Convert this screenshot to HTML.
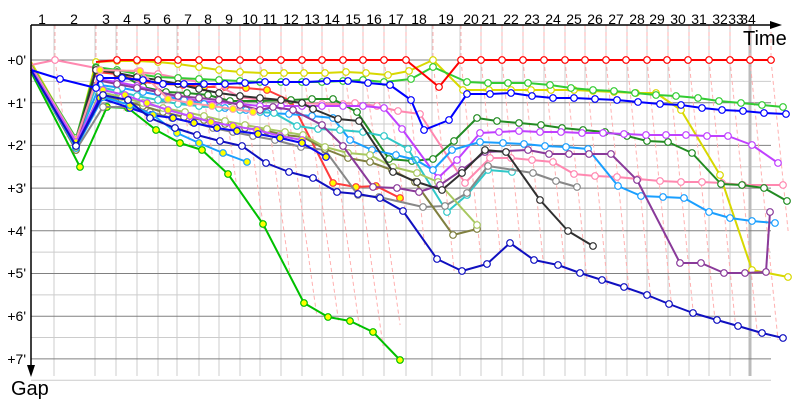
<!DOCTYPE html>
<html><head><meta charset="utf-8"><style>
html,body{margin:0;padding:0;background:#fff;}
svg{display:block;font-family:"Liberation Sans","DejaVu Sans",sans-serif;}
</style></head><body>
<svg id="s" width="800" height="400" viewBox="0 0 800 400" xmlns="http://www.w3.org/2000/svg">
<g id="grid"></g>
<g id="dash"></g>
<g id="ser"></g>
<line x1="31" y1="25" x2="772" y2="25" stroke="#000" stroke-width="1.5"/>
<polygon points="770,21 782,25 770,29" fill="#000"/>
<line x1="31" y1="25" x2="31" y2="368" stroke="#000" stroke-width="1.5"/>
<polygon points="27,365 31,377 35,365" fill="#000"/>
<g font-size="14" text-anchor="middle" fill="#000">
<text x="42" y="24">1</text><text x="74" y="24">2</text><text x="106" y="24">3</text><text x="127" y="24">4</text><text x="147" y="24">5</text><text x="167" y="24">6</text><text x="188" y="24">7</text><text x="208" y="24">8</text><text x="229" y="24">9</text><text x="250" y="24">10</text><text x="270" y="24">11</text><text x="291" y="24">12</text><text x="312" y="24">13</text><text x="332" y="24">14</text><text x="353" y="24">15</text><text x="374" y="24">16</text><text x="396" y="24">17</text><text x="419" y="24">18</text><text x="446" y="24">19</text><text x="471" y="24">20</text><text x="489" y="24">21</text><text x="511" y="24">22</text><text x="532" y="24">23</text><text x="553" y="24">24</text><text x="574" y="24">25</text><text x="595" y="24">26</text><text x="616" y="24">27</text><text x="637" y="24">28</text><text x="657" y="24">29</text><text x="678" y="24">30</text><text x="699" y="24">31</text><text x="720" y="24">32</text><text x="736" y="24">33</text><text x="748" y="24">34</text>
</g>
<g font-size="14" text-anchor="end" fill="#000">
<text x="26" y="65">+0'</text><text x="26" y="108">+1'</text><text x="26" y="150">+2'</text><text x="26" y="193">+3'</text><text x="26" y="236">+4'</text><text x="26" y="278">+5'</text><text x="26" y="321">+6'</text><text x="26" y="364">+7'</text>
</g>
<text x="743" y="45" font-size="20">Time</text>
<text x="11" y="395" font-size="20">Gap</text>
</svg>
<script>
var NS="http://www.w3.org/2000/svg";
function el(p,t,a){var e=document.createElementNS(NS,t);for(var k in a)e.setAttribute(k,a[k]);p.appendChild(e);return e;}
var G=document.getElementById("grid"),D=document.getElementById("dash"),S=document.getElementById("ser");
var vx=[54,95,116,137,158,177,199,219,240,260,281,302,322,343,363,384,406,432,460,481,502,523,544,565,585,606,627,647,668,689,709,730];
for(var i=0;i<8;i++){var y=60+i*42.7;
 el(G,"line",{x1:31,y1:y+21.35,x2:771,y2:y+21.35,stroke:"#ccc","stroke-width":1});
}
vx.forEach(function(x){el(G,"line",{x1:x,y1:25,x2:x,y2:376,stroke:"#ccc","stroke-width":1});});
el(G,"line",{x1:750,y1:25,x2:750,y2:376,stroke:"#bbb","stroke-width":3});
for(var i=0;i<8;i++){var y=60+i*42.7;el(G,"line",{x1:31,y1:y,x2:771,y2:y,stroke:"#808080","stroke-width":1});}
function P(s){return s.trim().split(/\s+/).map(function(q){return q.split(",").map(Number);});}
var series=[
["#00c000","#ff0","31,72 80,167 107,107 128,108 156,130 180,143 202,150 228,174 263,224 304,303 328,317 350,321 373,332 400,360"],
["#ff3c3c","#ff0","31,70 76,138 96,72 117,74 143,82 163,84 183,85 204,87 225,87 246,88 267,90 291,101 333,183 356,187 376,186 400,198"],
["#d8d800","#fff","31,62 76,140 96,62 117,61 137,61 158,62 178,64 199,67 219,70 240,72 264,73 284,73 304,73 325,73 346,72 366,73 388,75 409,71 433,60 463,90 489,90 511,90 531,90 551,90 574,90 593,91 614,92 636,93 656,93 681,110 720,175 752,270 788,277"],
["#ff88b0","#fff","31,65 55,60 96,68 117,70 137,72 158,74 178,78 199,82 219,86 240,97 260,100 281,101 302,103 322,104 343,104 355,103 377,106 398,111 420,114 465,183 490,158 511,158 532,160 553,162 574,174 595,176 617,177 638,179 660,181 681,182 702,182 722,183 743,185 783,185"],
["#33cc33","#fff","31,65 76,138 96,67 117,70 137,74 158,77 178,78 199,79 219,80 240,81 260,82 281,82 302,82 322,82 343,81 363,80 384,82 411,79 433,67 467,82 488,83 508,83 528,83 550,85 571,88 593,90 614,91 635,93 656,95 676,96 698,98 719,101 741,103 762,105 783,107"],
["#228b22","#fff","31,66 76,140 96,68 117,72 143,87 166,92 187,93 208,95 230,101 260,101 291,100 312,99 333,99 357,112 389,159 412,161 433,159 454,141 477,118 497,121 519,123 541,125 562,128 583,130 605,132 627,136 647,141 668,142 692,153 721,184 742,185 764,188 787,201"],
["#c040ff","#fff","31,66 76,140 96,79 117,82 137,86 158,92 178,97 199,101 219,102 240,104 260,106 281,106 302,106 322,106 343,106 363,106 384,108 402,129 438,178 457,160 480,133 499,132 519,131 540,132 561,132 582,133 603,133 624,134 646,135 666,135 686,135 707,136 728,136 752,145 778,163"],
["#1a9fff","#fff","31,68 76,142 100,85 122,88 143,92 163,96 184,100 204,104 225,108 246,110 267,113 289,114 312,116 333,118 350,140 372,150 396,155 416,160 433,170 452,150 480,142 503,143 524,144 545,146 566,147 588,149 618,186 641,196 663,197 684,198 709,212 730,218 752,221 775,223"],
["#30c8c8","#fff","31,68 76,145 96,86 117,91 137,96 158,100 178,104 199,106 219,108 240,110 260,112 274,113 297,126 318,129 340,130 363,132 384,136 408,149 447,212 467,195 488,170 512,172"],
["#888","#fff","31,68 76,150 103,107 129,107 150,112 172,118 192,122 213,128 233,132 253,136 275,140 301,147 325,150 358,195 379,197 423,207 445,206 467,193 488,166 533,173 556,181 577,187"],
["#808040","#fff","31,70 76,150 100,95 122,100 143,106 163,112 184,117 204,120 225,124 245,128 267,131 285,135 303,137 325,149 348,158 370,162 392,170 415,182 453,235 477,229"],
["#a8c860","#fff","31,70 76,148 100,92 122,97 143,103 163,108 185,112 204,116 225,121 245,125 267,129 285,132 303,135 325,147 348,153 370,155 393,167 417,173 438,182 477,225"],
["#8a3a9a","#fff","31,68 76,145 96,80 117,84 137,88 158,92 178,96 199,98 219,100 240,105 260,110 273,107 293,110 322,125 343,146 373,187 397,188 419,192 440,185 462,170 485,152 528,150 549,154 569,154 589,154 611,154 637,180 680,263 701,263 724,273 745,273 766,272 770,212"],
["#303030","#fff","31,67 76,143 96,70 117,73 137,77 158,80 178,84 199,89 219,93 240,96 260,98 281,100 302,103 313,109 338,119 359,121 393,172 417,182 442,190 462,173 485,150 506,152 540,200 568,231 593,246"],
["#ff99aa","#ff0","31,66 76,140 100,70 140,71 168,99 190,103 212,106 233,109 253,112"],
["#c050ff","#ff0","31,68 76,142 103,90 125,95 147,103 168,110 190,116 211,122 233,126 257,130 280,136 302,140"],
["#0a0af0","#ff0","31,70 76,146 100,98 130,108 151,115 173,118 194,123 217,128 237,131 258,134 280,138 302,143 326,157"],
["#1a9fff","#ff0","31,70 76,148 103,97 130,105 153,115 177,133 199,143 223,153 247,162"],
["#1010c0","#fff","31,70 76,146 103,95 128,100 150,118 175,128 197,135 220,141 242,146 266,163 289,172 313,178 337,192 358,194 380,198 403,211 437,259 462,271 487,264 510,243 534,260 558,265 580,273 602,280 624,287 647,295 669,304 693,313 717,320 738,326 762,333 783,338"],
["#0000ff","#fff","31,70 60,79 96,88 100,78 122,78 143,80 163,84 184,84 204,84 225,84 245,83 265,82 286,82 306,82 327,81 348,81 368,83 390,85 411,100 424,130 449,120 467,94 490,94 511,93 532,96 553,98 574,98 595,99 617,100 638,102 660,104 681,105 702,108 722,110 743,111 764,113 786,114"],
["#ff0000","#fff","96,62 117,60 137,60 158,60 178,60 199,60 219,60 240,60 260,60 281,60 302,60 322,60 343,60 363,60 384,60 406,60 439,87 461,60 481,60 502,60 523,60 544,60 565,60 585,60 606,60 626,60 647,60 667,60 688,60 709,60 730,60 750,60 771,60"]
];
var parsed=series.map(function(s){return P(s[2]);});
function lowest(x){var m=60;parsed.forEach(function(p){for(var i=1;i<p.length;i++){var a=p[i-1],b=p[i];if(x>=a[0]&&x<=b[0]&&b[0]>a[0]){var y=a[1]+(b[1]-a[1])*(x-a[0])/(b[0]-a[0]);if(y>m)m=y;}}});return m;}
var dx=[55,96,117,137,158,178,199,219,240,260,281,302,322,343,363,384,406,433,461,481,502,523,544,565,585,606,627,647,668,689,709,730,750,771];
dx.forEach(function(x0){
 var sl=x0<400?0.14:0.1, ye=60, xe=x0;
 for(var y=60;y<=375;y++){var x=x0+sl*(y-60);xe=x;ye=y;if(y>lowest(x)+3)break;}
 el(D,"polyline",{points:x0+",25 "+x0+",60 "+xe+","+ye,fill:"none",stroke:"#ffb0b0","stroke-width":1,"stroke-dasharray":"4,3"});
});
series.forEach(function(s,k){var p=parsed[k];
 el(S,"polyline",{points:p.map(function(q){return q.join(",");}).join(" "),fill:"none",stroke:s[0],"stroke-width":2,"stroke-linejoin":"round"});
 p.forEach(function(q,i){if(i==0)return;el(S,"circle",{cx:q[0],cy:q[1],r:3.3,fill:s[1],stroke:s[0],"stroke-width":1.2});});
});
</script>
</body></html>
